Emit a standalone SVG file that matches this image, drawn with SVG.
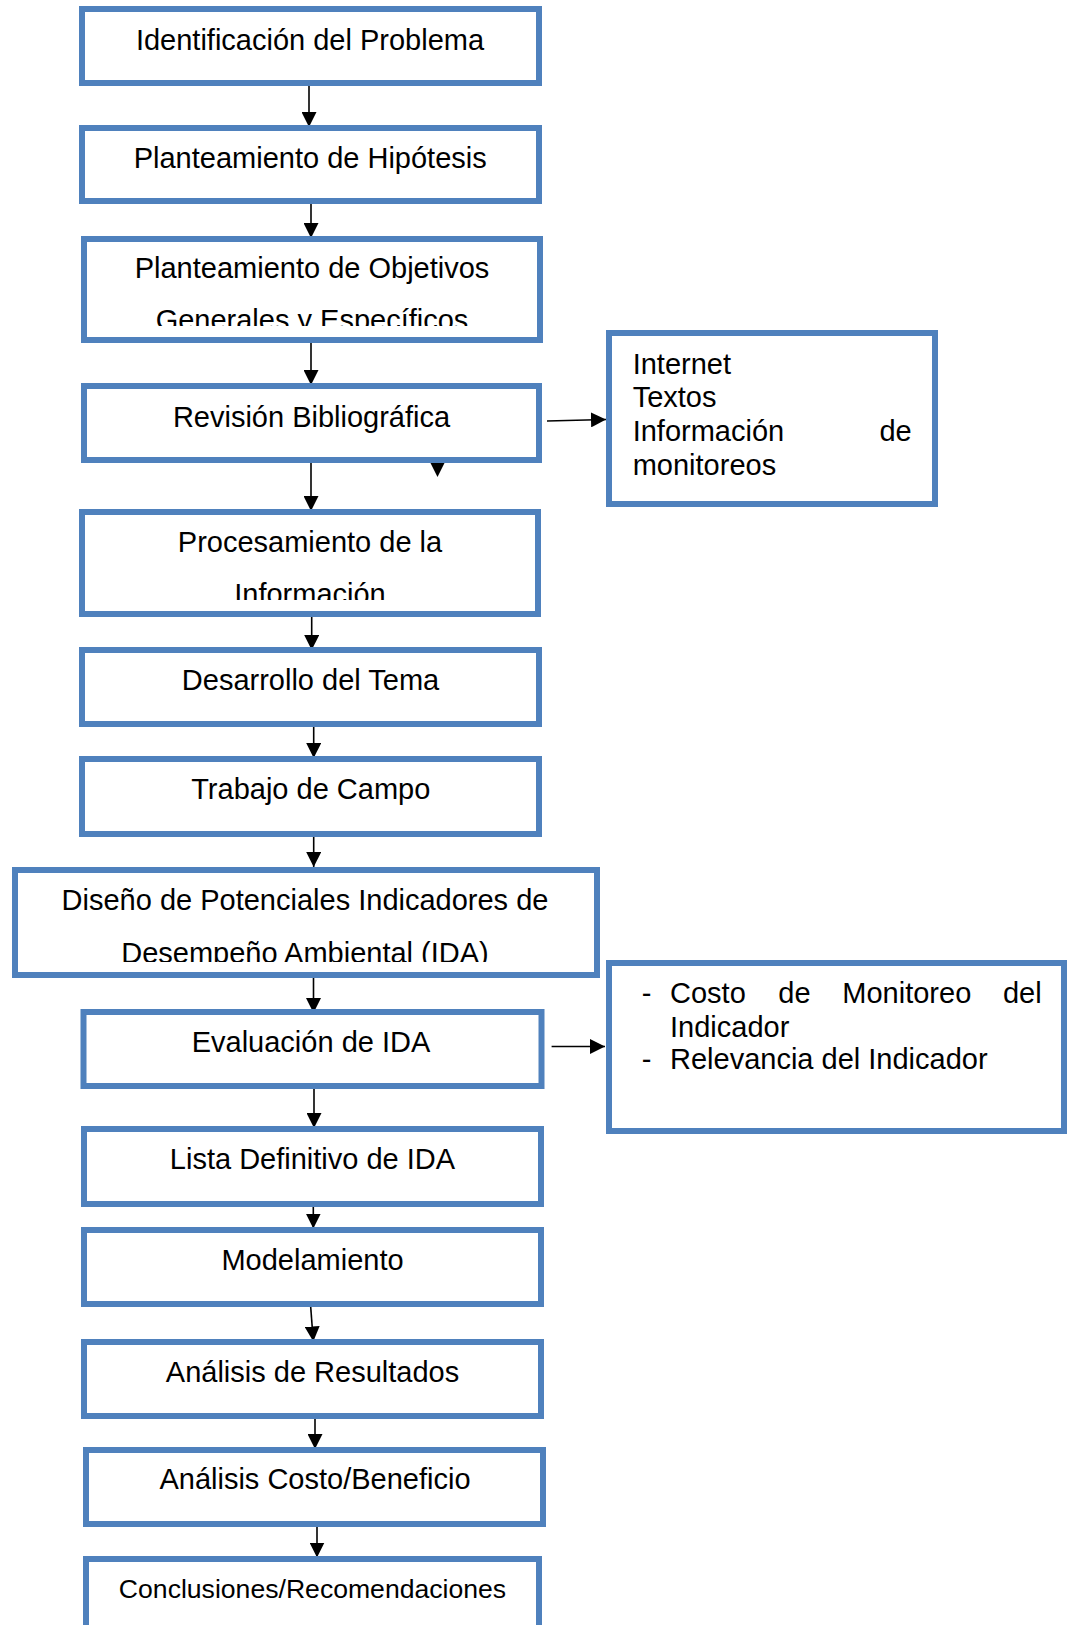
<svg xmlns="http://www.w3.org/2000/svg" width="1073" height="1625" viewBox="0 0 1073 1625">
<style>
.box{fill:#ffffff;stroke:#4F81BD;stroke-width:6}
.t{font-family:"Liberation Sans",Arial,sans-serif;font-size:29px;fill:#000000}
.c{text-anchor:middle}
.e{text-anchor:end}
.con{stroke:#000000;stroke-width:1.6;fill:none}
</style>
<defs>
<marker id="ah" markerUnits="userSpaceOnUse" markerWidth="15" markerHeight="15" refX="15" refY="7.5" orient="auto">
<path d="M0,0 L15,7.5 L0,15 Z" fill="#000000"/>
</marker>
<clipPath id="clip3"><rect x="84" y="239" width="456" height="87"/></clipPath>
<clipPath id="clip5"><rect x="82" y="512" width="456" height="88"/></clipPath>
<clipPath id="clip8"><rect x="15" y="870" width="582" height="92"/></clipPath>
</defs>
<rect width="1073" height="1625" fill="#ffffff"/>

<g id="connectors">
<line class="con" x1="309" y1="86" x2="309" y2="127" marker-end="url(#ah)"/>
<line class="con" x1="311" y1="204" x2="311" y2="238" marker-end="url(#ah)"/>
<line class="con" x1="311" y1="343" x2="311" y2="385" marker-end="url(#ah)"/>
<line class="con" x1="311" y1="463" x2="311" y2="511" marker-end="url(#ah)"/>
<line class="con" x1="311.7" y1="617" x2="311.7" y2="650" marker-end="url(#ah)"/>
<line class="con" x1="313.7" y1="727" x2="313.7" y2="758" marker-end="url(#ah)"/>
<line class="con" x1="313.7" y1="837" x2="313.7" y2="867" marker-end="url(#ah)"/>
<line class="con" x1="313.5" y1="978" x2="313.5" y2="1013" marker-end="url(#ah)"/>
<line class="con" x1="314" y1="1089" x2="314" y2="1128" marker-end="url(#ah)"/>
<line class="con" x1="313.3" y1="1207" x2="313.3" y2="1228.5" marker-end="url(#ah)"/>
<line class="con" x1="310.7" y1="1307" x2="313.3" y2="1341.5" marker-end="url(#ah)"/>
<line class="con" x1="315" y1="1419" x2="315" y2="1449" marker-end="url(#ah)"/>
<line class="con" x1="317" y1="1527" x2="317" y2="1557.5" marker-end="url(#ah)"/>
<line class="con" x1="547" y1="421" x2="606" y2="419.5" marker-end="url(#ah)"/>
<line class="con" x1="551.6" y1="1046.5" x2="605" y2="1046.5" marker-end="url(#ah)"/>
<path d="M430.5,463 L444.5,463 L437.5,477 Z" fill="#000000"/>
</g>

<g id="n1"><rect class="box" x="82" y="9" width="457" height="74"/><text class="t c" x="310" y="50">Identificación del Problema</text></g>
<g id="n2"><rect class="box" x="82" y="128" width="457" height="73"/><text class="t c" x="310.2" y="167.7">Planteamiento de Hipótesis</text></g>
<g id="n3"><rect class="box" x="84" y="239" width="456" height="101"/><g clip-path="url(#clip3)"><text class="t c" x="312" y="278.3">Planteamiento de Objetivos</text><text class="t c" x="312" y="329.5">Generales y Específicos</text></g></g>
<g id="n4"><rect class="box" x="84" y="386" width="455" height="74"/><text class="t c" x="311.5" y="426.7">Revisión Bibliográfica</text></g>
<g id="n5"><rect class="box" x="82" y="512" width="456" height="102"/><g clip-path="url(#clip5)"><text class="t c" x="310" y="551.7">Procesamiento de la</text><text class="t c" x="310" y="603.5">Información</text></g></g>
<g id="n6"><rect class="box" x="82" y="650" width="457" height="74"/><text class="t c" x="310.5" y="690">Desarrollo del Tema</text></g>
<g id="n7"><rect class="box" x="82" y="759" width="457" height="75"/><text class="t c" x="310.8" y="799.3">Trabajo de Campo</text></g>
<g id="n8"><rect class="box" x="15" y="870" width="582" height="105"/><g clip-path="url(#clip8)"><text class="t c" x="305" y="910">Diseño de Potenciales Indicadores de</text><text class="t c" x="305" y="962.5">Desempeño Ambiental (IDA)</text></g></g>
<g id="n9"><rect class="box" x="83.5" y="1012" width="458" height="74"/><text class="t c" x="311" y="1051.7">Evaluación de IDA</text></g>
<g id="n10"><rect class="box" x="84" y="1129" width="457" height="75"/><text class="t c" x="312.5" y="1169">Lista Definitivo de IDA</text></g>
<g id="n11"><rect class="box" x="84" y="1230" width="457" height="74"/><text class="t c" x="312.5" y="1270">Modelamiento</text></g>
<g id="n12"><rect class="box" x="84" y="1342" width="457" height="74"/><text class="t c" x="312.5" y="1381.7">Análisis de Resultados</text></g>
<g id="n13"><rect class="box" x="86" y="1450" width="457" height="74"/><text class="t c" x="315" y="1489.3">Análisis Costo/Beneficio</text></g>
<g id="n14"><rect class="box" x="86" y="1559" width="453" height="100"/><text class="t c" x="312.5" y="1597.7" style="font-size:26.6px">Conclusiones/Recomendaciones</text></g>

<g id="nA"><rect class="box" x="609" y="333" width="326" height="171"/>
<text class="t" x="632.7" y="374">Internet</text>
<text class="t" x="632.7" y="407.3">Textos</text>
<text class="t" x="632.7" y="440.7">Información</text>
<text class="t e" x="911.7" y="440.7">de</text>
<text class="t" x="632.7" y="475">monitoreos</text>
</g>
<g id="nB"><rect class="box" x="609" y="963" width="455" height="168"/>
<text class="t" x="641.7" y="1003.3">-</text>
<text class="t" x="670" y="1003.3">Costo</text>
<text class="t" x="778.3" y="1003.3">de</text>
<text class="t" x="842.3" y="1003.3">Monitoreo</text>
<text class="t e" x="1041.7" y="1003.3">del</text>
<text class="t" x="670" y="1037.3">Indicador</text>
<text class="t" x="641.7" y="1069">-</text>
<text class="t" x="670" y="1069">Relevancia del Indicador</text>
</g>
</svg>
